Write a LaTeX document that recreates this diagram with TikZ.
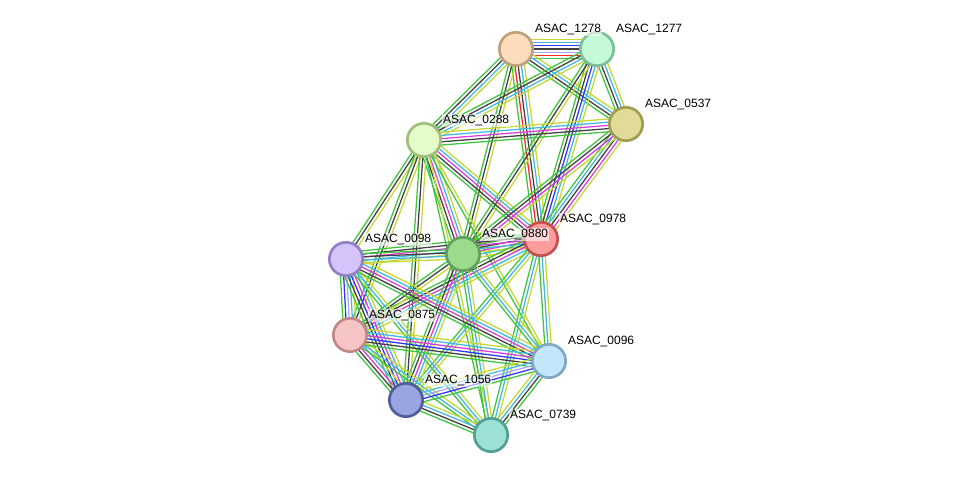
\documentclass[tikz,border=0pt]{standalone}
\usepackage{fontspec}
\setmainfont{Liberation Sans}
\usepackage{tikz}
\usetikzlibrary{calc,positioning,backgrounds}
% evidence channels
\definecolor{nbhd}{RGB}{62,196,62}
\definecolor{fusion}{RGB}{250,40,40}
\definecolor{cooc}{RGB}{50,50,250}
\definecolor{coexp}{RGB}{64,64,64}
\definecolor{exper}{RGB}{220,60,220}
\definecolor{dbase}{RGB}{64,184,224}
\definecolor{tmine}{RGB}{196,216,52}
\definecolor{homol}{RGB}{168,168,255}
% protein fills / rims
\definecolor{peach}{RGB}{253,220,190}   \definecolor{peachD}{RGB}{190,160,125}
\definecolor{mint}{RGB}{196,250,216}    \definecolor{mintD}{RGB}{125,192,150}
\definecolor{khaki}{RGB}{224,220,152}   \definecolor{khakiD}{RGB}{160,156,80}
\definecolor{lima}{RGB}{228,252,200}    \definecolor{limaD}{RGB}{160,190,125}
\definecolor{salmon}{RGB}{255,156,156}  \definecolor{salmonD}{RGB}{196,80,80}
\definecolor{verde}{RGB}{154,219,140}   \definecolor{verdeD}{RGB}{96,160,90}
\definecolor{lila}{RGB}{212,196,250}    \definecolor{lilaD}{RGB}{145,128,200}
\definecolor{rosa}{RGB}{246,198,198}    \definecolor{rosaD}{RGB}{192,136,136}
\definecolor{cielo}{RGB}{196,230,252}   \definecolor{cieloD}{RGB}{128,168,192}
\definecolor{azul}{RGB}{154,164,222}    \definecolor{azulD}{RGB}{80,92,160}
\definecolor{turq}{RGB}{156,224,214}    \definecolor{turqD}{RGB}{80,160,150}
\tikzstyle{edge}  =[line width=0.95pt]
\tikzstyle{vertex}=[circle, draw, minimum size=25pt,
                    line width=2pt, inner sep=0pt]
\tikzstyle{lbl}   =[anchor=west, inner sep=0.6pt, fill=white,
                    fill opacity=0.6, text opacity=1,
                    font=\fontsize{9}{10}\selectfont]
% one link = several parallel lines, one per channel
\newcommand{\strlink}[3]{%
  \edef\chlist{#3}%
  \foreach \c [count=\k] in \chlist {\xdef\nlin{\k}}%
  \foreach \c [count=\k] in \chlist {%
    \pgfmathsetmacro\off{(\k-(\nlin+1)/2)*2.4}%
    \draw[edge,\c] ($(#1.center)!\off pt!90:(#2.center)$)
      -- ($(#2.center)!\off pt!-90:(#1.center)$);
  }%
}

\begin{document}
\begin{tikzpicture}[x=0.75pt,y=-0.75pt]
    \useasboundingbox (0,0) rectangle (976,481);

    \draw (516,49) node (1278) [vertex,fill=peach,draw=peachD] {};
    \draw (597,49) node (1277) [vertex,fill=mint,draw=mintD] {};
    \draw (626,124) node (0537) [vertex,fill=khaki,draw=khakiD] {};
    \draw (424,140) node (0288) [vertex,fill=lima,draw=limaD] {};
    \draw (541,239) node (0978) [vertex,fill=salmon,draw=salmonD] {};
    \draw (463,254) node (0880) [vertex,fill=verde,draw=verdeD] {};
    \draw (346,259) node (0098) [vertex,fill=lila,draw=lilaD] {};
    \draw (350,335) node (0875) [vertex,fill=rosa,draw=rosaD] {};
    \draw (549,361) node (0096) [vertex,fill=cielo,draw=cieloD] {};
    \draw (406,400) node (1056) [vertex,fill=azul,draw=azulD] {};
    \draw (491,435) node (0739) [vertex,fill=turq,draw=turqD] {};

    \foreach \n in {1278,1277,0537,0288,0978,0880,0098,0875,0096,1056,0739}
        \node[lbl] (t\n) at ($(\n)+(18,-19.5)$) {ASAC\_\n};

    \begin{pgfonlayer}{background}
        \strlink{1278}{1277}{nbhd,fusion,homol,coexp,cooc,dbase,tmine}
        \strlink{1278}{0537}{nbhd,coexp,dbase,tmine}
        \strlink{1278}{0288}{nbhd,coexp,dbase,tmine}
        \strlink{1278}{0978}{nbhd,fusion,coexp,dbase,tmine}
        \strlink{1278}{0880}{nbhd,coexp,tmine}
        \strlink{1277}{0537}{nbhd,coexp,dbase,tmine}
        \strlink{1277}{0288}{nbhd,coexp,dbase,tmine}
        \strlink{1277}{0978}{nbhd,coexp,cooc,dbase,tmine}
        \strlink{1277}{0880}{nbhd,coexp,tmine}
        \strlink{0288}{0537}{nbhd,coexp,exper,dbase,tmine}
        \strlink{0288}{0978}{nbhd,coexp,exper,dbase,tmine}
        \strlink{0288}{0880}{nbhd,coexp,exper,dbase,tmine}
        \strlink{0288}{0098}{nbhd,coexp,tmine}
        \strlink{0288}{0875}{nbhd,coexp,tmine}
        \strlink{0288}{1056}{nbhd,coexp,tmine}
        \strlink{0288}{0739}{nbhd,tmine}
        \strlink{0288}{0096}{nbhd,tmine}
        \strlink{0537}{0978}{nbhd,dbase,coexp,exper,tmine}
        \strlink{0537}{0880}{nbhd,coexp,exper,tmine}
        \strlink{0978}{0880}{nbhd,coexp,exper,dbase,tmine}
        \strlink{0978}{0098}{nbhd,coexp,exper,dbase,tmine}
        \strlink{0978}{0875}{nbhd,coexp,exper,dbase,tmine}
        \strlink{0978}{1056}{nbhd,dbase,tmine}
        \strlink{0978}{0739}{nbhd,dbase,tmine}
        \strlink{0978}{0096}{nbhd,dbase,tmine}
        \strlink{0880}{0098}{nbhd,coexp,dbase,tmine}
        \strlink{0880}{0875}{nbhd,coexp,tmine}
        \strlink{0880}{1056}{nbhd,coexp,exper,dbase,tmine}
        \strlink{0880}{0739}{nbhd,dbase,tmine}
        \strlink{0880}{0096}{nbhd,dbase,tmine}
        \strlink{0098}{0875}{nbhd,cooc,homol,dbase,tmine}
        \strlink{0098}{1056}{nbhd,coexp,cooc,exper,dbase,tmine}
        \strlink{0098}{0739}{nbhd,dbase,tmine}
        \strlink{0098}{0096}{nbhd,coexp,exper,dbase,tmine}
        \strlink{0875}{1056}{nbhd,coexp,exper,dbase,tmine}
        \strlink{0875}{0739}{nbhd,dbase,tmine}
        \strlink{0875}{0096}{nbhd,coexp,cooc,exper,dbase,tmine}
        \strlink{1056}{0739}{nbhd,coexp,dbase,tmine}
        \strlink{1056}{0096}{nbhd,cooc,homol,dbase,tmine}
        \strlink{0739}{0096}{nbhd,coexp,dbase,tmine}
    \end{pgfonlayer}

\end{tikzpicture}
\end{document}
